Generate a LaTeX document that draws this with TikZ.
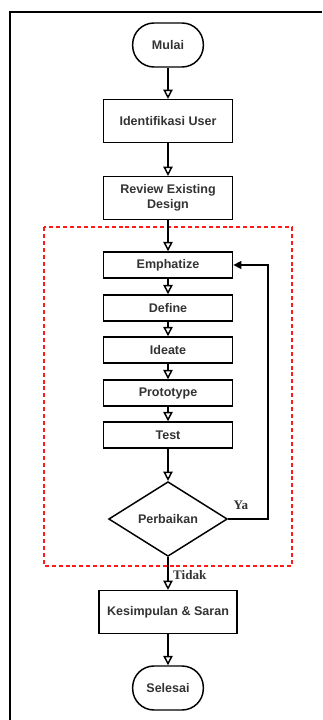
\documentclass[tikz,border=0pt]{standalone}
\usepackage{fontspec}
\setmainfont{Liberation Sans}
\newfontfamily\ketfont{Liberation Serif}
\usetikzlibrary{shapes.geometric,arrows.meta}

\begin{document}
\begin{tikzpicture}[x=0.75pt,y=-0.75pt,
  proses/.style={draw,line width=1.1pt,minimum width=97pt,minimum height=32pt,inner sep=2pt,
    align=center,text=black!80,font=\bfseries\fontsize{9.4}{11.5}\selectfont},
  fase/.style={proses,minimum height=19.5pt},
  terminal/.style={proses,rounded corners=16pt,minimum width=53pt,minimum height=33pt},
  keputusan/.style={proses,diamond,aspect=1.6,minimum width=89pt,minimum height=56pt,inner sep=0pt},
  panah/.style={line width=1.1pt,-{Triangle[open,length=7pt,width=7pt]}},
  ket/.style={text=black!80,font=\ketfont\bfseries\fontsize{9.8}{11}\selectfont}]
\useasboundingbox (0,0) rectangle (322,720);
%frame
\draw[line width=1.8pt] (10,720) -- (10,12) -- (322,12);
%design thinking
\draw[red!90,line width=1pt,dash pattern=on 3pt off 2.2pt] (44,227) rectangle (292,566);

\node[terminal] (mulai) at (168,45) {Mulai};
\node[proses] (ident) at (168,121) {Identifikasi User};
\node[proses] (review) at (168,198) {Review Existing\\Design};
\node[fase] (emph) at (168,265) {Emphatize};
\node[fase] (define) at (168,308) {Define};
\node[fase] (ideate) at (168,350) {Ideate};
\node[fase] (proto) at (168,393) {Prototype};
\node[fase] (test) at (168,435) {Test};
\node[keputusan] (perb) at (168,519) {Perbaikan};
\node[proses,minimum width=103.5pt] (kesim) at (168,612) {Kesimpulan \& Saran};
\node[terminal] (selesai) at (168,688) {Selesai};

\draw[panah] (mulai) -- (ident);
\draw[panah] (ident) -- (review);
\draw[panah] (review) -- (emph);
\draw[panah] (emph) -- (define);
\draw[panah] (define) -- (ideate);
\draw[panah] (ideate) -- (proto);
\draw[panah] (proto) -- (test);
\draw[panah] (test) -- (perb);
\draw[panah] (perb) -- node[ket,right,pos=0.55] {Tidak} (kesim);
\draw[panah] (kesim) -- (selesai);
%loop
\draw[line width=1.1pt,-{Triangle[length=6pt,width=6pt]}] (perb.east)
  -- node[ket,above=3pt,pos=0.32] {Ya} ++(40,0) |- (emph.east);
\end{tikzpicture}
\end{document}
